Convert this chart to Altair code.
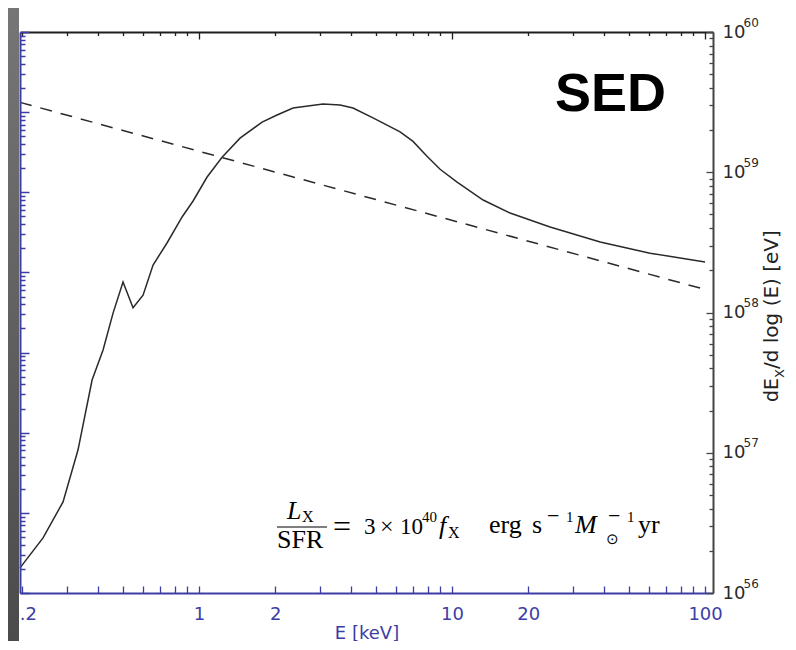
import altair as alt
import pandas as pd

# ---------------- data ----------------
energy_kev = [0.196, 0.2417, 0.290, 0.3324, 0.3777, 0.4174, 0.4572, 0.5006, 0.5483,
              0.6007, 0.658, 0.747, 0.857, 0.947, 1.076, 1.233, 1.452, 1.775, 2.034,
              2.352, 3.09, 3.61, 4.06, 4.87, 6.23, 7.01, 7.96, 8.97, 10.47, 13.27,
              16.95, 24.4, 38.5, 60.6, 100.0]
sed_ev = [1.51e56, 2.47e56, 4.46e56, 1.05e57, 3.30e57, 5.41e57, 9.9e57, 1.65e58, 1.08e58,
          1.33e58, 2.18e58, 3.13e58, 4.80e58, 6.24e58, 9.25e58, 1.28e59, 1.75e59, 2.28e59,
          2.56e59, 2.87e59, 3.07e59, 3.02e59, 2.87e59, 2.44e59, 1.94e59, 1.66e59, 1.30e59,
          1.05e59, 8.51e58, 6.34e58, 5.12e58, 4.07e58, 3.18e58, 2.65e58, 2.29e58]

powerlaw_kev = [0.196, 100.0]
powerlaw_ev = [3.15e59, 1.46e58]

x_label_ticks = [0.2, 1, 2, 10, 20, 100]
x_ticks = [0.2, 0.3, 0.4, 0.5, 0.6, 0.7, 0.8, 0.9,
           1, 2, 3, 4, 5, 6, 7, 8, 9,
           10, 20, 30, 40, 50, 60, 70, 80, 90, 100]
y_label_ticks = [1e56, 1e57, 1e58, 1e59, 1e60]
y_ticks = [m * 10.0 ** e for e in [56, 57, 58, 59] for m in [1, 2, 3, 4, 5, 6, 7, 8, 9]] + [1e60]
left_ticks = [m * 10.0 ** e for e in range(7) for m in [1, 2, 3, 4, 5, 6, 7, 8, 9]] + [1e7]
left_domain = [1, 1e7]

title_text = "SED"
x_title = "E [keV]"

# ---------------- layout ----------------
W, H = 693, 561
PL, PT = 20, 32          # plot origin on the page
BLUE = "#3d3da6"
DARK = "#1e1e1e"
GRAY = "#444444"
SANS = "DejaVu Sans"
SERIF = "Liberation Serif"
MAJOR = "abs(log(datum.value)/LN10 - round(log(datum.value)/LN10)) < 0.001"


def tick_len(major, minor):
    return {"condition": {"test": MAJOR, "value": major}, "value": minor}


sed_df = pd.DataFrame({"E": energy_kev, "S": sed_ev})
pl_df = pd.DataFrame({"E": powerlaw_kev, "S": powerlaw_ev})
left_df = pd.DataFrame({"v": left_domain})
one = pd.DataFrame({"a": [0]})

xscale = alt.Scale(type="log", domain=[0.196, 107.5], nice=False)
yscale = alt.Scale(type="log", domain=[1e56, 1e60], nice=False)

# left gray strip of the slide background
strip = alt.Chart(one).mark_rect(
    fill=alt.LinearGradient(gradient="linear",
                            stops=[alt.GradientStop(color="#767676", offset=0),
                                   alt.GradientStop(color="#4a4a4a", offset=1)],
                            x1=0, x2=0, y1=0, y2=1),
).encode(x=alt.value(-12), x2=alt.value(-1), y=alt.value(-24), y2=alt.value(H + 60))

solid = alt.Chart(sed_df).mark_line(color="#2a2a2a", strokeWidth=1.5).encode(
    x=alt.X("E:Q", scale=xscale, axis=alt.Axis(
        orient="bottom", values=x_label_ticks, format="~g", ticks=False, tickSize=0,
        domainColor=BLUE, domainWidth=2, labelColor=BLUE, labelFont=SANS, labelFontSize=18,
        labelPadding=12, labelFlush=False, labelOverlap=False, labelBound=False, grid=False,
        title=x_title, titleColor=BLUE, titleFont=SANS, titleFontSize=18,
        titleFontWeight="normal", titleY=45, titleBaseline="alphabetic", zindex=0)),
    y=alt.Y("S:Q", scale=yscale, axis=alt.Axis(
        orient="right", values=y_label_ticks, labelExpr="'10'", ticks=False, tickSize=0,
        domainColor=GRAY, domainWidth=2, labelColor="#2a2a2a", labelFont=SANS,
        labelFontSize=18, labelPadding=9, labelBaseline="middle", labelAlign="left",
        labelOverlap=False, labelBound=False, labelFlush=False, grid=False, title=None,
        zindex=1)),
)

dashed = alt.Chart(pl_df).mark_line(color="#2a2a2a", strokeWidth=1.5, strokeDash=[12, 9]).encode(
    x=alt.X("E:Q", scale=xscale, axis=alt.Axis(
        orient="bottom", offset=-H, values=x_ticks, labels=False,
        tickSize=tick_len(7, 3.5), tickColor=DARK, tickWidth=1.3,
        domainColor=DARK, domainWidth=2, grid=False, title=None, zindex=1)),
    y=alt.Y("S:Q", scale=yscale, axis=alt.Axis(
        orient="left", offset=-W, values=y_ticks, labels=False,
        tickSize=tick_len(7, 4), tickColor=GRAY, tickWidth=1.3,
        domain=False, grid=False, title=None, zindex=1)),
)

carrier = alt.Chart(sed_df).mark_line(opacity=0).encode(
    x=alt.X("E:Q", scale=xscale, axis=alt.Axis(
        orient="top", offset=-H, values=x_ticks, labels=False, tickSize=7,
        tickColor=BLUE, tickWidth=1.3, domain=False, grid=False, title=None, zindex=1)),
    y=alt.Y("S:Q", scale=yscale, axis=alt.Axis(
        orient="right", values=y_label_ticks,
        labelExpr="'' + round(log(datum.value)/LN10)", ticks=False, tickSize=0,
        domain=False, labelFont=SANS, labelFontSize=12, labelColor="#2a2a2a",
        labelPadding=30, labelOffset=-10, labelBaseline="middle", labelAlign="left",
        labelOverlap=False, labelBound=False, labelFlush=False, grid=False, title=None,
        zindex=1)),
)

left_axis = alt.Chart(left_df).mark_point(opacity=0).encode(
    x=alt.value(0),
    y=alt.Y("v:Q", scale=alt.Scale(type="log", domain=left_domain, nice=False), axis=alt.Axis(
        orient="right", offset=-W, values=left_ticks, labels=False,
        tickSize=tick_len(9, 5), tickColor=BLUE, tickWidth=1.5,
        domainColor=BLUE, domainWidth=2, grid=False, title=None, zindex=1)),
)

# ---------------- annotations ----------------
sed_label = alt.Chart(one).mark_text(
    text=title_text, font="Liberation Sans", fontSize=54, fontWeight="bold",
    align="left", baseline="alphabetic", color="black",
).encode(x=alt.value(555 - PL), y=alt.value(111 - PT))

f_norm = pd.DataFrame({
    "t": ["X", "SFR", "=", "3", "×", "10", "40", "X", "erg", "s", "−", "1",
          "−", "1", "⊙", "yr"],
    "x": [302, 277, 333, 364, 380, 400, 422, 448, 489, 532, 547, 566,
          608, 627, 606, 638],
    "y": [522, 548, 537, 534, 534, 534, 522, 538, 533, 533, 523, 522,
          523, 522, 544, 533],
    "s": [16, 26, 32, 23, 24, 23, 15, 16, 26, 26, 22, 15, 22, 15, 15, 26],
})
f_ital = pd.DataFrame({
    "t": ["L", "f", "M"],
    "x": [287, 439, 575],
    "y": [519, 534, 533],
    "s": [26, 26, 26],
})
for d in (f_norm, f_ital):
    d["x"] = d["x"] - PL
    d["y"] = d["y"] - PT


def text_layer(df, style, font, angle=0, color="black"):
    kw = dict(font=font, align="left", baseline="alphabetic", color=color, fontStyle=style)
    if angle:
        kw["angle"] = angle
    return alt.Chart(df).mark_text(**kw).encode(
        x=alt.X("x:Q", scale=None, axis=None),
        y=alt.Y("y:Q", scale=None, axis=None),
        text="t:N",
        size=alt.Size("s:Q", scale=None, legend=None),
    )


formula_n = text_layer(f_norm, "normal", SERIF)
formula_i = text_layer(f_ital, "italic", SERIF)

frac_bar = alt.Chart(one).mark_rule(color="black", strokeWidth=1.2).encode(
    x=alt.value(277 - PL), x2=alt.value(327 - PL), y=alt.value(527 - PT))

ytitle = pd.DataFrame({
    "t": ["dE", "X", "/d log (E) [eV]"],
    "x": [778, 784, 778],
    "y": [402, 378, 369],
    "s": [19, 13, 20],
})
ytitle["x"] = ytitle["x"] - PL
ytitle["y"] = ytitle["y"] - PT
ytitle_layer = text_layer(ytitle, "normal", SANS, angle=270, color="#222222")

chart = alt.layer(
    strip, solid, dashed, carrier, left_axis, sed_label, formula_n, formula_i, frac_bar,
    ytitle_layer,
).resolve_scale(
    x="independent", y="independent"
).resolve_axis(
    x="independent", y="independent"
).properties(
    width=W, height=H,
    padding={"left": 12, "top": 24, "right": 75, "bottom": 48},
    autosize=alt.AutoSizeParams(type="none"),
    background="white",
).configure_view(stroke=None)

chart.save("out.html", embed_options={"renderer": "svg", "actions": False})
